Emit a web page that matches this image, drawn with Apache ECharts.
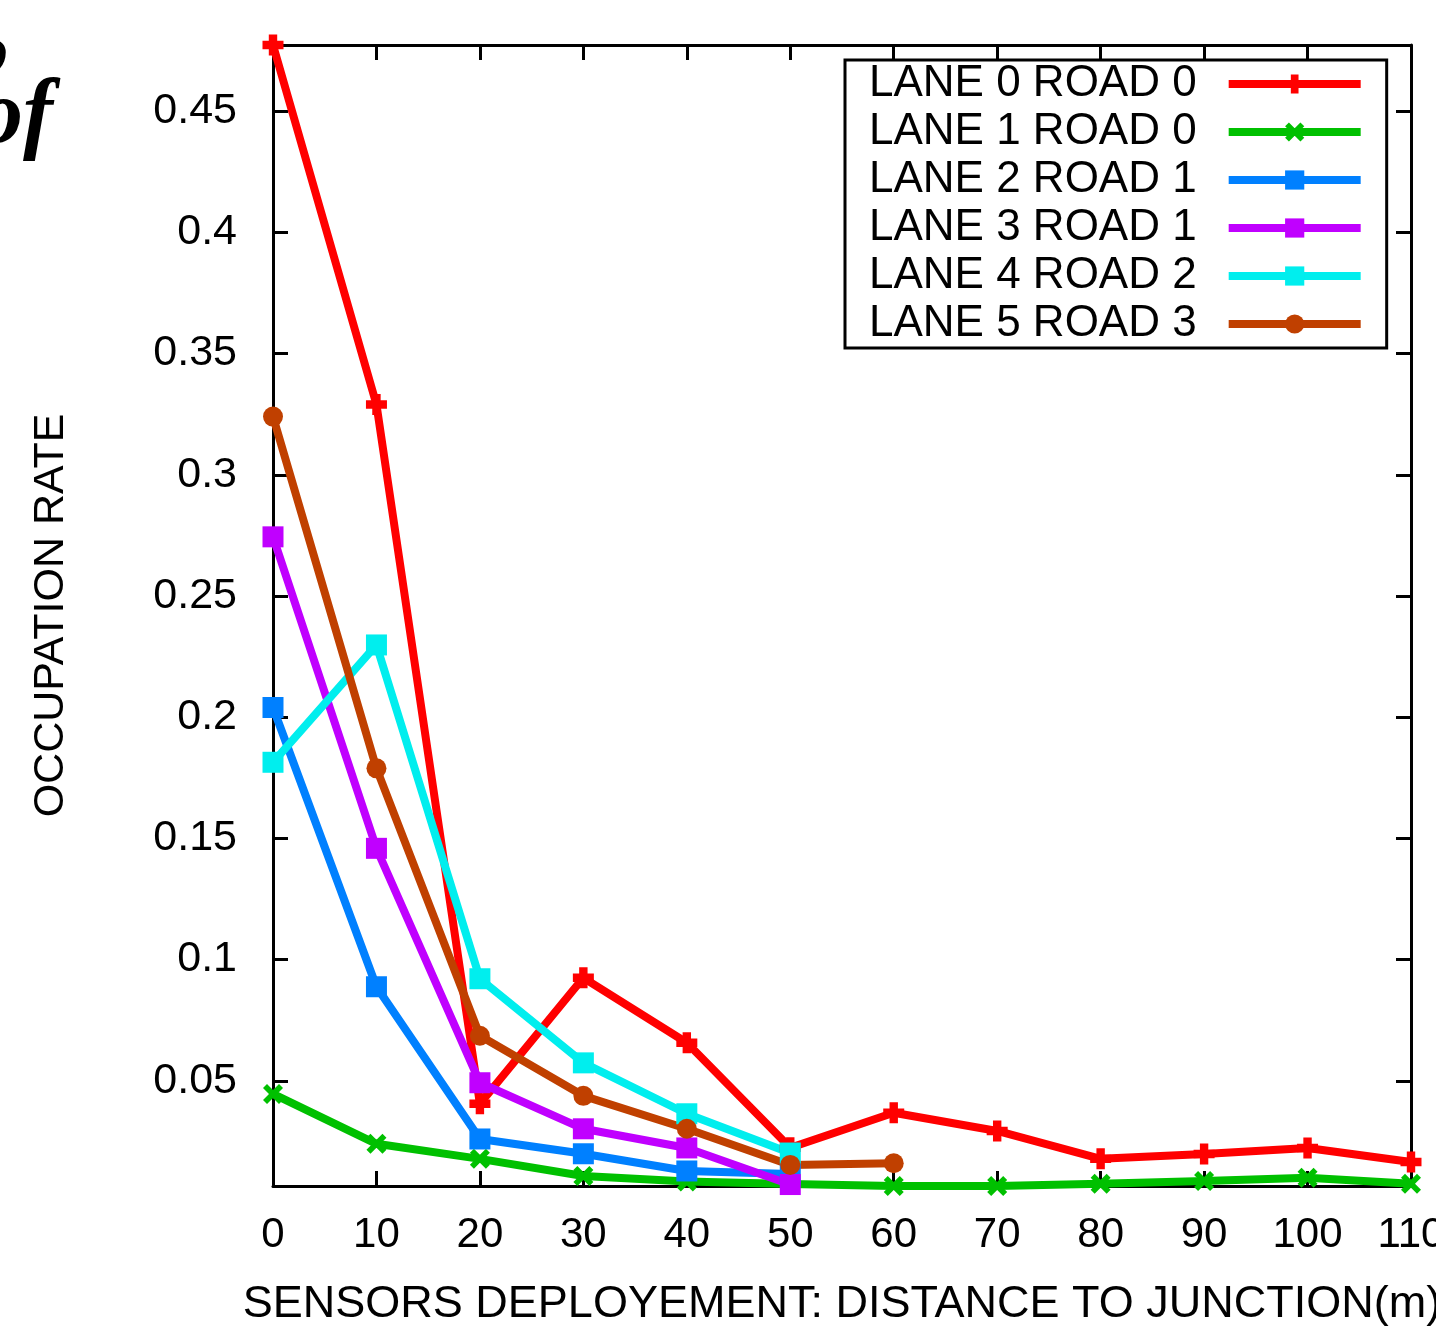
<!DOCTYPE html>
<html>
<head>
<meta charset="utf-8">
<script src="https://cdn.jsdelivr.net/npm/echarts@6/dist/echarts.min.js"></script>
<style>
  html, body { margin: 0; padding: 0; background: #fff; }
  #chart { width: 1436px; height: 1330px; }
</style>
</head>
<body>
<div id="chart"></div>
<script>
// distances to junction (m)
const distances = [0, 10, 20, 30, 40, 50, 60, 70, 80, 90, 100, 110]

const laneNames = [
  'LANE 0 ROAD 0', 'LANE 1 ROAD 0', 'LANE 2 ROAD 1',
  'LANE 3 ROAD 1', 'LANE 4 ROAD 2', 'LANE 5 ROAD 3'
]

// occupation rate
const lane0 = [0.4773, 0.329, 0.0405, 0.0925, 0.0657, 0.0224, 0.0368, 0.0293, 0.0178, 0.0198, 0.0223, 0.0165]
const lane1 = [0.0446, 0.024, 0.0178, 0.0107, 0.0085, 0.0074, 0.0066, 0.0066, 0.0075, 0.0087, 0.010, 0.0075]
const lane2 = [0.204, 0.0888, 0.026, 0.0199, 0.0128, 0.0115]
const lane3 = [0.2744, 0.1459, 0.0492, 0.0302, 0.0223, 0.0072]
const lane4 = [0.1814, 0.2298, 0.0921, 0.0574, 0.0364, 0.0202]
const lane5 = [0.324, 0.1789, 0.0686, 0.0438, 0.0302, 0.0153, 0.016]

const yTicks = [0.05, 0.1, 0.15, 0.2, 0.25, 0.3, 0.35, 0.4, 0.45]
const yMin = 0.0066
const yMax = 0.4773

const colors = ['#ff0000', '#00c000', '#0080ff', '#c000ff', '#00eeee', '#c04000']
const plusPath = 'path://M6,0H14V6H20V14H14V20H6V14H0V6H6Z'
const crossPath = 'path://M0,4L4,0L10,6L16,0L20,4L14,10L20,16L16,20L10,14L4,20L0,16L6,10Z'
const symbols = [plusPath, crossPath, 'rect', 'rect', 'rect', 'circle']
const symbolSizes = [21, 20, 21, 21, 21, 20]

const font = 'Liberation Sans, Arial, Helvetica, sans-serif'

const chart = echarts.init(document.getElementById('chart'), null, { renderer: 'canvas' })

const pair = (vals) => vals.map((v, i) => [distances[i], v])
const allLanes = [lane0, lane1, lane2, lane3, lane4, lane5]

const series = allLanes.map((vals, i) => ({
  name: laneNames[i],
  type: 'line',
  data: pair(vals),
  symbol: symbols[i],
  symbolSize: symbolSizes[i],
  showAllSymbol: true,
  clip: false,
  lineStyle: { color: colors[i], width: 8 },
  itemStyle: { color: colors[i] },
  animation: false
}))

const axisLine = { show: true, onZero: false, lineStyle: { color: '#000', width: 3 } }
const tick = { show: true, inside: true, length: 15, lineStyle: { color: '#000', width: 3 } }

const option = {
  backgroundColor: '#fff',
  animation: false,
  grid: { left: 273, right: 25, top: 45, bottom: 144, containLabel: false, outerBoundsMode: 'none' },
  legend: {
    orient: 'vertical',
    left: 845,
    top: 60,
    align: 'right',
    padding: [0, 22, 0, 24],
    itemGap: 0,
    itemWidth: 132,
    itemHeight: 24,
    borderColor: '#000',
    borderWidth: 3,
    backgroundColor: '#fff',
    lineStyle: { width: 8 },
    textStyle: { fontFamily: font, fontSize: 44, color: '#000', lineHeight: 48, padding: [0, 27, 0, 0] },
    data: laneNames
  },
  xAxis: [
    {
      type: 'value',
      min: 0, max: 110, interval: 10,
      name: 'SENSORS DEPLOYEMENT: DISTANCE TO JUNCTION(m)',
      nameLocation: 'middle',
      nameGap: 96,
      nameTextStyle: { fontFamily: font, fontSize: 45, color: '#000' },
      axisLine,
      axisTick: tick,
      axisLabel: { fontFamily: font, fontSize: 42, color: '#000', margin: 28, showMaxLabel: true },
      splitLine: { show: false }
    },
    {
      type: 'value', position: 'top',
      min: 0, max: 110, interval: 10,
      axisLine, axisTick: tick,
      axisLabel: { show: false }, splitLine: { show: false }
    }
  ],
  yAxis: [
    {
      type: 'value',
      min: yMin, max: yMax,
      name: 'OCCUPATION RATE',
      nameLocation: 'middle',
      nameRotate: 90,
      nameGap: 200,
      nameTextStyle: { fontFamily: font, fontSize: 43, color: '#000' },
      axisLine,
      axisTick: Object.assign({}, tick, { customValues: yTicks }),
      axisLabel: {
        customValues: yTicks,
        fontFamily: font, fontSize: 43, color: '#000', margin: 36,
        formatter: (v) => String(+v.toFixed(2))
      },
      splitLine: { show: false }
    },
    {
      type: 'value', position: 'right',
      min: yMin, max: yMax,
      axisLine,
      axisTick: Object.assign({}, tick, { customValues: yTicks }),
      axisLabel: { show: false }, splitLine: { show: false }
    }
  ],
  graphic: [
    {
      type: 'text', left: -16, top: -40,
      style: { text: ',', font: 'italic bold 130px "Liberation Serif", "Times New Roman", serif', fill: '#000' }
    },
    {
      type: 'text', left: -22, top: 74,
      style: { text: 'of', font: 'italic bold 90px "Liberation Serif", "Times New Roman", serif', fill: '#000' }
    }
  ],
  series
}

chart.setOption(option)
</script>
</body>
</html>
